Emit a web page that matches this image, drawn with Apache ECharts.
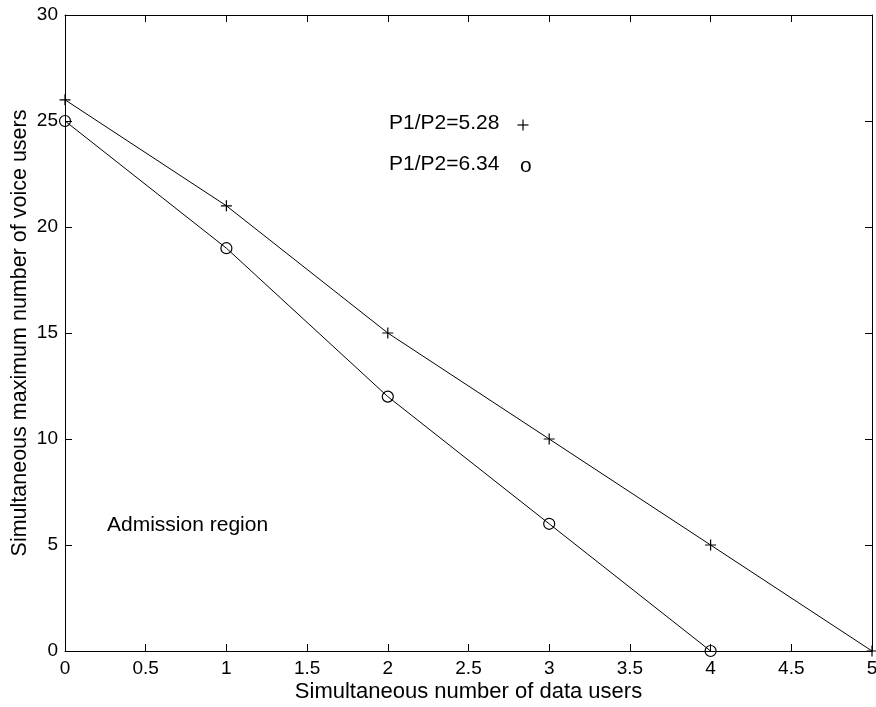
<!DOCTYPE html>
<html>
<head>
<meta charset="utf-8">
<title>Admission region</title>
<script src="https://cdn.jsdelivr.net/npm/echarts@6/dist/echarts.min.js"></script>
<style>
  html, body { margin: 0; padding: 0; background: #fff; }
  #chart { width: 876px; height: 707px; }
</style>
</head>
<body>
<div id="chart"></div>
<script>
// Data users on the x axis, maximum voice users on the y axis
const dataUsersPlus = [0, 1, 2, 3, 4, 5];
const voiceUsersPlus = [26, 21, 15, 10, 5, 0];
const dataUsersCircle = [0, 1, 2, 3, 4];
const voiceUsersCircle = [25, 19, 12, 6, 0];
const seriesNames = ['P1/P2=5.28', 'P1/P2=6.34'];
const xTicks = [0, 0.5, 1, 1.5, 2, 2.5, 3, 3.5, 4, 4.5, 5];
const yTicks = [0, 5, 10, 15, 20, 25, 30];

const FONT = '"Liberation Sans", Arial, Helvetica, sans-serif';
const INK = '#000';
const PLUS = 'path://M5,0L5,10M0,5L10,5';

const chart = echarts.init(document.getElementById('chart'), null, { renderer: 'canvas' });

function pairs(xs, ys) {
  return xs.map((x, i) => [x, ys[i]]);
}

const tickLabel = { color: INK, fontFamily: FONT, fontSize: 19 };
const baseAxis = {
  axisLine: { show: true, onZero: false, lineStyle: { color: INK, width: 1 } },
  axisTick: { show: true, inside: true, length: 7, lineStyle: { color: INK, width: 1 } },
  splitLine: { show: false }
};

const xCommon = Object.assign({}, baseAxis, {
  type: 'value', min: xTicks[0], max: xTicks[xTicks.length - 1],
  interval: xTicks[1] - xTicks[0]
});
const yCommon = Object.assign({}, baseAxis, {
  type: 'value', min: yTicks[0], max: yTicks[yTicks.length - 1],
  interval: yTicks[1] - yTicks[0]
});

chart.setOption({
  backgroundColor: '#fff',
  animation: false,
  grid: { left: 65, right: 4, top: 15, bottom: 56, outerBoundsMode: 'none', containLabel: false },
  xAxis: [
    Object.assign({}, xCommon, {
      position: 'bottom',
      name: 'Simultaneous number of data users',
      nameLocation: 'middle', nameGap: 30, nameMoveOverlap: false,
      nameTextStyle: { color: INK, fontFamily: FONT, fontSize: 22 },
      axisLabel: Object.assign({ margin: 8, formatter: v => String(v) }, tickLabel)
    }),
    Object.assign({}, xCommon, { position: 'top', axisLabel: { show: false } })
  ],
  yAxis: [
    Object.assign({}, yCommon, {
      position: 'left',
      name: 'Simultaneous maximum number of voice users',
      nameLocation: 'middle', nameGap: 34, nameMoveOverlap: false,
      nameTextStyle: { color: INK, fontFamily: FONT, fontSize: 21.5 },
      axisLabel: Object.assign({ margin: 7 }, tickLabel)
    }),
    Object.assign({}, yCommon, { position: 'right', axisLabel: { show: false } })
  ],
  series: [
    {
      name: seriesNames[0], type: 'line', xAxisIndex: 0, yAxisIndex: 0,
      data: pairs(dataUsersPlus, voiceUsersPlus),
      clip: false, symbol: PLUS, symbolSize: 11,
      lineStyle: { color: INK, width: 1 },
      itemStyle: { color: 'none', borderColor: INK, borderWidth: 1.2 }
    },
    {
      name: seriesNames[1], type: 'line', xAxisIndex: 0, yAxisIndex: 0,
      data: pairs(dataUsersCircle, voiceUsersCircle),
      clip: false, symbol: 'circle', symbolSize: 11,
      lineStyle: { color: INK, width: 1 },
      itemStyle: { color: 'none', borderColor: INK, borderWidth: 1.2 }
    }
  ],
  graphic: [
    {
      type: 'text', left: 389, top: 113,
      style: { text: seriesNames[0], fill: INK, font: '21px ' + FONT }
    },
    {
      type: 'group', x: 523, y: 125,
      children: [
        { type: 'line', shape: { x1: -5.5, y1: 0, x2: 5.5, y2: 0 }, style: { stroke: INK, lineWidth: 1.2 } },
        { type: 'line', shape: { x1: 0, y1: -5.5, x2: 0, y2: 5.5 }, style: { stroke: INK, lineWidth: 1.2 } }
      ]
    },
    {
      type: 'text', left: 389, top: 154,
      style: { text: seriesNames[1], fill: INK, font: '21px ' + FONT }
    },
    {
      type: 'text', left: 520, top: 156,
      style: { text: 'o', fill: INK, font: '21px ' + FONT }
    },
    {
      type: 'text', left: 107, top: 515,
      style: { text: 'Admission region', fill: INK, font: '21px ' + FONT }
    }
  ]
});
</script>
</body>
</html>
